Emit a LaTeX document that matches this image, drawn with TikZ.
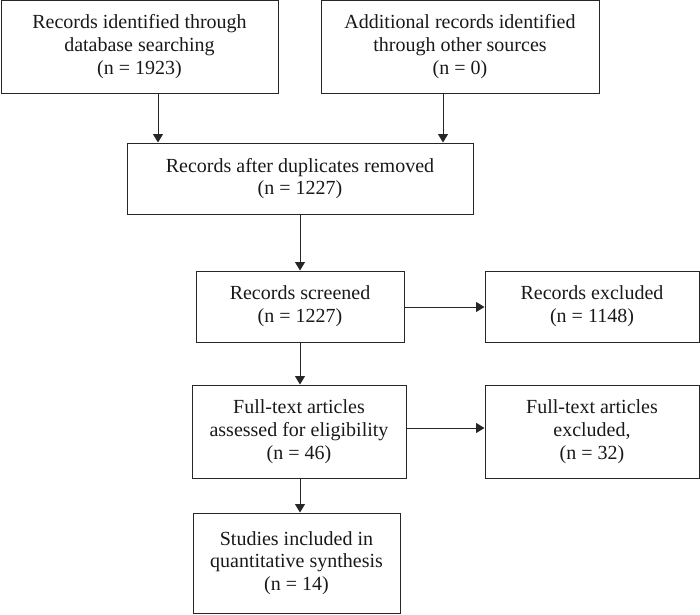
\documentclass[tikz,border=0pt]{standalone}
\usepackage{fontspec}
\setmainfont{Liberation Serif}
\usetikzlibrary{arrows.meta}
\begin{document}
\begin{tikzpicture}[x=1pt,y=-1pt,
  box/.style={draw=black!85,line width=1pt,align=center,inner sep=0pt,
    font=\fontsize{20}{22.7}\selectfont,text=black!90},
  arr/.style={draw=black!85,line width=1pt,-{Triangle[length=8.5pt,width=10pt]}}]
\useasboundingbox (0,0) rectangle (700,614);
\node[box,minimum width=277pt,minimum height=93pt] (b1) at (139.5,46.5) {Records identified through\\database searching\\(n = 1923)};
\node[box,minimum width=278pt,minimum height=93pt] (b2) at (460,46.5) {Additional records identified\\through other sources\\(n = 0)};
\node[box,minimum width=346pt,minimum height=71pt] (b3) at (300,178.5) {Records after duplicates removed\\(n = 1227)};
\node[box,minimum width=208pt,minimum height=71pt] (b4) at (300,306.5) {Records screened\\(n = 1227)};
\node[box,minimum width=214pt,minimum height=71pt] (b5) at (592,306.5) {Records excluded\\(n = 1148)};
\node[box,minimum width=214pt,minimum height=93pt] (b6) at (299,431.5) {Full-text articles\\assessed for eligibility\\(n = 46)};
\node[box,minimum width=214pt,minimum height=93pt] (b7) at (592,431.5) {Full-text articles\\excluded,\\(n = 32)};
\node[box,minimum width=207pt,minimum height=100pt] (b8) at (296.5,563) {Studies included in\\quantitative synthesis\\(n = 14)};
\draw[arr] (b1.south -| 158,0) -- (b3.north -| 158,0);
\draw[arr] (b2.south -| 443,0) -- (b3.north -| 443,0);
\draw[arr] (b3.south -| 300,0) -- (b4.north -| 300,0);
\draw[arr] (b4.east |- 0,307) -- (b5.west |- 0,307);
\draw[arr] (b4.south -| 300,0) -- (b6.north -| 300,0);
\draw[arr] (b6.east |- 0,428) -- (b7.west |- 0,428);
\draw[arr] (b6.south -| 300,0) -- (b8.north -| 300,0);
\end{tikzpicture}
\end{document}
